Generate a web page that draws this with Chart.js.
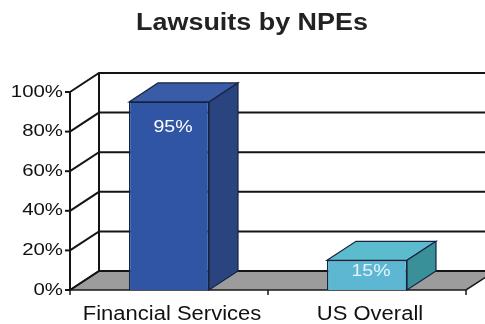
<!DOCTYPE html>
<html><head><meta charset="utf-8">
<script src="https://cdn.jsdelivr.net/npm/chart.js@4/dist/chart.umd.min.js"></script>
<style>html,body{margin:0;padding:0;background:#fff}#wrap{width:485px;height:324px}</style>
</head><body><div id="wrap"><canvas id="c" width="485" height="324"></canvas></div>
<script>
const titleText = 'Lawsuits by NPEs';
const categories = ['Financial Services', 'US Overall'];
const values = [95, 15];
const valueLabels = ['95%', '15%'];
const yTicks = [0, 20, 40, 60, 80, 100];
const yTickLabels = ['0%', '20%', '40%', '60%', '80%', '100%'];

const DX = 29, DY = -19;
const FONT = '"Liberation Sans", Arial, Helvetica, sans-serif';
const frontColors = ['#2f55a4', '#5db7d2'];
const topColors = ['#3a5ca6', '#5cbccd'];
const sideColors = ['#2a447f', '#3a9099'];
const labelColors = ['#ffffff', '#e4f4f8'];

function wideText(ctx, text, x, y, sx, align) {
  ctx.save();
  ctx.translate(x, y);
  ctx.scale(sx, 1);
  ctx.textAlign = align;
  ctx.fillText(text, 0, 0);
  ctx.restore();
}

const depthPlugin = {
  id: 'depth3d',
  beforeDatasetsDraw(chart) {
    const ctx = chart.ctx, a = chart.chartArea, y = chart.scales.y;
    const W = chart.width;
    ctx.save();
    const y0 = y.getPixelForValue(0);
    // floor
    ctx.beginPath();
    ctx.moveTo(a.left, y0); ctx.lineTo(a.right, y0);
    ctx.lineTo(a.right + DX, y0 + DY); ctx.lineTo(a.left + DX, y0 + DY); ctx.closePath();
    ctx.fillStyle = '#9c9c9c'; ctx.fill();
    ctx.strokeStyle = '#1a1a1a'; ctx.lineWidth = 1.5; ctx.stroke();
    // gridlines on back wall + diagonals on side wall
    ctx.lineWidth = 2; ctx.strokeStyle = '#141414';
    yTicks.forEach(v => {
      const py = y.getPixelForValue(v);
      ctx.beginPath();
      ctx.moveTo(a.left, py); ctx.lineTo(a.left + DX, py + DY); ctx.lineTo(W + 5, py + DY);
      ctx.stroke();
      // small tick on front axis
      ctx.beginPath(); ctx.moveTo(a.left - 5, py); ctx.lineTo(a.left, py); ctx.stroke();
    });
    ctx.beginPath();
    ctx.moveTo(a.left + DX, y.getPixelForValue(100) + DY);
    ctx.lineTo(a.left + DX, y0 + DY);
    ctx.stroke();
    ctx.beginPath();
    ctx.moveTo(a.left, y.getPixelForValue(100)); ctx.lineTo(a.left, y0);
    ctx.stroke();
    // category ticks
    ctx.lineWidth = 1.5;
    const n = categories.length, step = (a.right - a.left) / n;
    for (let i = 0; i <= n; i++) {
      const px = a.left + step * i;
      ctx.beginPath(); ctx.moveTo(px, y0); ctx.lineTo(px, y0 + 5); ctx.stroke();
    }
    ctx.restore();
  },
  afterDatasetsDraw(chart) {
    const ctx = chart.ctx;
    const meta = chart.getDatasetMeta(0);
    ctx.save();
    meta.data.forEach((bar, i) => {
      const l = bar.x - bar.width / 2, r = bar.x + bar.width / 2, t = bar.y, b = bar.base;
      ctx.lineWidth = 1.2; ctx.strokeStyle = '#16233f';
      ctx.beginPath();
      ctx.moveTo(l, t); ctx.lineTo(l + DX, t + DY); ctx.lineTo(r + DX, t + DY); ctx.lineTo(r, t); ctx.closePath();
      ctx.fillStyle = topColors[i]; ctx.fill(); ctx.stroke();
      ctx.beginPath();
      ctx.moveTo(r, t); ctx.lineTo(r + DX, t + DY); ctx.lineTo(r + DX, b + DY); ctx.lineTo(r, b); ctx.closePath();
      ctx.fillStyle = sideColors[i]; ctx.fill(); ctx.stroke();
      const off = Math.min(25, (b - t) / 2 - 4);
      ctx.fillStyle = labelColors[i];
      ctx.font = '17px ' + FONT;
      ctx.textBaseline = 'middle';
      wideText(ctx, valueLabels[i], bar.x + 4, t + off, 1.15, 'center');
    });
    ctx.restore();
  },
  afterDraw(chart) {
    const ctx = chart.ctx, a = chart.chartArea, y = chart.scales.y, x = chart.scales.x;
    ctx.save();
    ctx.fillStyle = '#222';
    ctx.textBaseline = 'alphabetic';
    ctx.font = 'bold 23px ' + FONT;
    wideText(ctx, titleText, 252, 30, 1.17, 'center');
    ctx.fillStyle = '#111';
    ctx.font = '17px ' + FONT;
    ctx.textBaseline = 'middle';
    yTicks.forEach((v, i) => {
      wideText(ctx, yTickLabels[i], a.left - 7, y.getPixelForValue(v), 1.2, 'right');
    });
    ctx.font = '20px ' + FONT;
    ctx.textBaseline = 'alphabetic';
    categories.forEach((c, i) => {
      wideText(ctx, c, x.getPixelForValue(i) + 3, 320, 1.1, 'center');
    });
    ctx.restore();
  }
};

new Chart(document.getElementById('c'), {
  type: 'bar',
  data: {
    labels: categories,
    datasets: [{
      data: values,
      backgroundColor: frontColors,
      borderColor: '#16233f',
      borderWidth: 1.2,
      categoryPercentage: 1,
      barPercentage: 0.404
    }]
  },
  options: {
    responsive: false,
    animation: false,
    devicePixelRatio: 1,
    layout: { padding: { left: 0, right: 19, top: 92, bottom: 0 } },
    plugins: {
      legend: { display: false },
      tooltip: { enabled: false },
      title: { display: false }
    },
    scales: {
      y: {
        min: 0, max: 100,
        afterFit(s) { s.width = 70; },
        ticks: { display: false, stepSize: 20 },
        grid: { display: false },
        border: { display: false }
      },
      x: {
        afterFit(s) { s.height = 34; },
        ticks: { display: false },
        grid: { display: false },
        border: { display: false }
      }
    }
  },
  plugins: [depthPlugin]
});
</script>
</body></html>
